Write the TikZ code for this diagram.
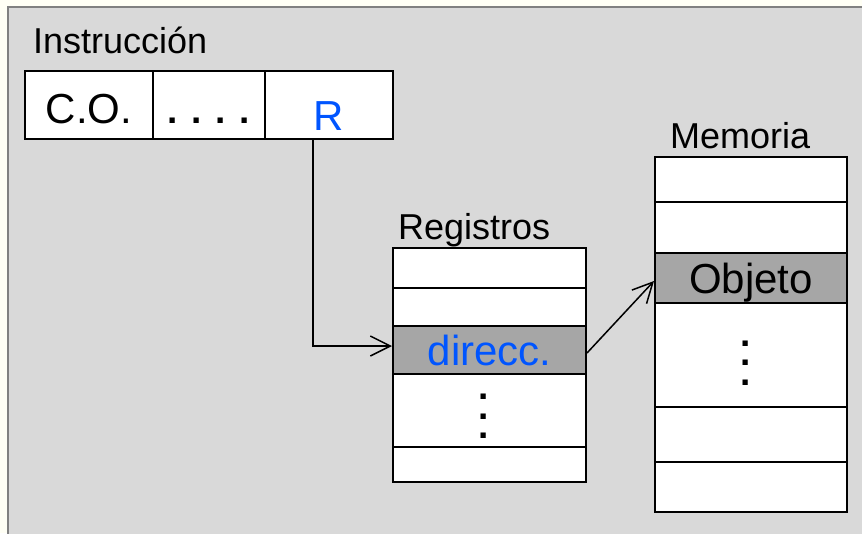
\documentclass[tikz,border=0pt]{standalone}
\usepackage{fontspec}
\setmainfont{Liberation Sans}
\usetikzlibrary{arrows.meta}
\definecolor{fondo}{RGB}{255,255,245}
\definecolor{marco}{RGB}{217,217,217}
\definecolor{borde}{RGB}{128,128,128}
\definecolor{sombra}{RGB}{166,166,166}
\definecolor{azul}{RGB}{0,85,255}
\tikzset{
  celda/.style={draw, line width=2pt, fill=white, inner sep=0pt},
  marcada/.style={celda, fill=sombra},
  titulo/.style={anchor=base west, inner sep=0pt, font=\fontsize{36}{43}\selectfont},
  grande/.style={anchor=base, inner sep=0pt, font=\fontsize{42}{50}\selectfont},
  puntos/.style={align=center, inner sep=0pt, font=\bfseries\fontsize{37}{19.6}\selectfont},
  flecha/.style={line width=1.5pt, -{Straight Barb[length=20pt,width=20pt,line width=1.5pt]}}
}
\begin{document}
\begin{tikzpicture}[x=1pt,y=-1pt]
      \useasboundingbox (0,0) rectangle (862,533);
      \fill[fondo] (0,0) rectangle (862,533);
      \filldraw[fill=marco, draw=borde, line width=2pt] (8,7) rectangle (880,560);
      \draw
        (89,105) node[celda, minimum width=128pt, minimum height=68pt] (co){}
        (209,105) node[celda, minimum width=112pt, minimum height=68pt] (pp){}
        (329,105) node[celda, minimum width=128pt, minimum height=68pt] (r){}
        (489.5,268) node[celda, minimum width=193pt, minimum height=40pt] (reg1){}
        (489.5,307) node[celda, minimum width=193pt, minimum height=38pt] (reg2){}
        (489.5,350) node[marcada, minimum width=193pt, minimum height=48pt] (dir){}
        (489.5,410.5) node[celda, minimum width=193pt, minimum height=73pt] (reg4){}
        (489.5,464.5) node[celda, minimum width=193pt, minimum height=35pt] (reg5){}
        (751,179.5) node[celda, minimum width=192pt, minimum height=45pt] (mem1){}
        (751,227.5) node[celda, minimum width=192pt, minimum height=51pt] (mem2){}
        (751,278) node[marcada, minimum width=192pt, minimum height=50pt] (obj){}
        (751,355) node[celda, minimum width=192pt, minimum height=104pt] (mem4){}
        (751,434.5) node[celda, minimum width=192pt, minimum height=55pt] (mem5){}
        (751,487) node[celda, minimum width=192pt, minimum height=50pt] (mem6){};
      \draw
        (33,53) node[titulo] (tinst){Instrucción}
        (398,239) node[titulo] (treg){Registros}
        (670,148) node[titulo] (tmem){Memoria}
        ([yshift=-18pt]co.center) node[grande] (tco){C.O.}
        ([yshift=-18pt]pp.center) node[puntos, anchor=base] (tpp){. . . .}
        ([yshift=-25pt]r.center) node[grande, text=azul] (tr){R}
        ([yshift=-15pt]dir.center) node[grande, text=azul] (tdir){direcc.}
        ([yshift=-15pt]obj.center) node[grande] (tobj){Objeto}
        ([xshift=-6pt,yshift=-6pt]reg4.center) node[puntos] (vreg){.\\.\\.}
        ([xshift=-5pt,yshift=-8pt]mem4.center) node[puntos] (vmem){.\\.\\.};
      \begin{scope}[flecha]
        \draw ([xshift=-16pt]r.south) |- ([yshift=4pt]dir.west);
        \draw ([yshift=-3pt]dir.east) to ([yshift=-3pt]obj.west);
      \end{scope}
    \end{tikzpicture}
\end{document}
